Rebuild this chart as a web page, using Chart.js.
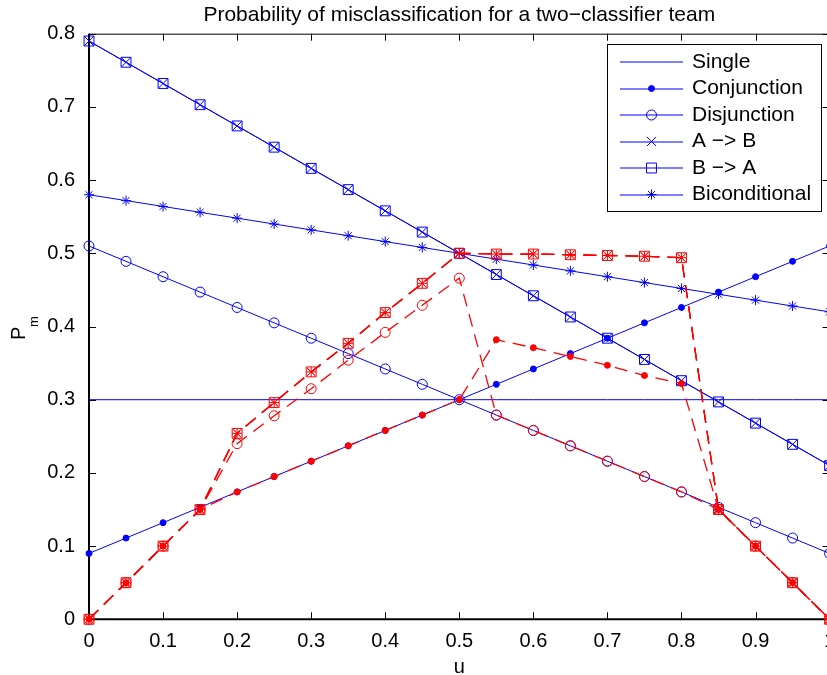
<!DOCTYPE html>
<html>
<head>
<meta charset="utf-8">
<script src="https://cdn.jsdelivr.net/npm/chart.js@4.4.1/dist/chart.umd.min.js"></script>
<style>
  html, body { margin: 0; padding: 0; background: #fff; overflow: hidden; }
  #wrap { width: 840px; height: 675px; }
</style>
</head>
<body>
<div id="wrap"><canvas id="chart" width="840" height="675"></canvas></div>
<script>
// u values (x axis)
const uValues = [0, 0.05, 0.1, 0.15, 0.2, 0.25, 0.3, 0.35, 0.4, 0.45, 0.5,
                 0.55, 0.6, 0.65, 0.7, 0.75, 0.8, 0.85, 0.9, 0.95, 1];

// blue series (solid)
const singleBlue = [0.3, 0.3, 0.3, 0.3, 0.3, 0.3, 0.3, 0.3, 0.3, 0.3, 0.3,
                    0.3, 0.3, 0.3, 0.3, 0.3, 0.3, 0.3, 0.3, 0.3, 0.3];
const conjBlue = [0.09, 0.111, 0.132, 0.153, 0.174, 0.195, 0.216, 0.237, 0.258, 0.279, 0.3,
                  0.321, 0.342, 0.363, 0.384, 0.405, 0.426, 0.447, 0.468, 0.489, 0.51];
const disjBlue = [0.51, 0.489, 0.468, 0.447, 0.426, 0.405, 0.384, 0.363, 0.342, 0.321, 0.3,
                  0.279, 0.258, 0.237, 0.216, 0.195, 0.174, 0.153, 0.132, 0.111, 0.09];
const aToBBlue = [0.79, 0.761, 0.732, 0.703, 0.674, 0.645, 0.616, 0.587, 0.558, 0.529, 0.5,
                  0.471, 0.442, 0.413, 0.384, 0.355, 0.326, 0.297, 0.268, 0.239, 0.21];
const bToABlue = [0.79, 0.761, 0.732, 0.703, 0.674, 0.645, 0.616, 0.587, 0.558, 0.529, 0.5,
                  0.471, 0.442, 0.413, 0.384, 0.355, 0.326, 0.297, 0.268, 0.239, 0.21];
const bicondBlue = [0.58, 0.572, 0.564, 0.556, 0.548, 0.54, 0.532, 0.524, 0.516, 0.508, 0.5,
                    0.492, 0.484, 0.476, 0.468, 0.46, 0.452, 0.444, 0.436, 0.428, 0.42];

// red series (dashed)
const conjRed = [0, 0.05, 0.1, 0.15, 0.174, 0.195, 0.216, 0.237, 0.258, 0.279, 0.3,
                 0.382, 0.371, 0.359, 0.347, 0.333, 0.322, 0.15, 0.1, 0.05, 0];
const disjRed = [0, 0.05, 0.1, 0.15, 0.24, 0.278, 0.315, 0.354, 0.392, 0.429, 0.466,
                 0.279, 0.258, 0.237, 0.216, 0.195, 0.174, 0.15, 0.1, 0.05, 0];
const aToBRed = [0, 0.05, 0.1, 0.15, 0.254, 0.296, 0.338, 0.377, 0.419, 0.459, 0.5,
                 0.499, 0.499, 0.498, 0.497, 0.496, 0.494, 0.15, 0.1, 0.05, 0];
const bToARed = [0, 0.05, 0.1, 0.15, 0.254, 0.296, 0.338, 0.377, 0.419, 0.459, 0.5,
                 0.499, 0.499, 0.498, 0.497, 0.496, 0.494, 0.15, 0.1, 0.05, 0];
const bicondRed = [0, 0.05, 0.1, 0.15, 0.254, 0.296, 0.338, 0.377, 0.419, 0.459, 0.5,
                   0.499, 0.499, 0.498, 0.497, 0.496, 0.494, 0.15, 0.1, 0.05, 0];

const BLUE = '#0000ff';
const RED = '#ff0000';
const FONT = "'Liberation Sans', Arial, Helvetica, sans-serif";

Chart.defaults.font.family = FONT;
Chart.defaults.color = '#000';

// marker looks, MATLAB style
const MARKERS = {
  none: { style: false, r: 0, fill: false },
  dot: { style: 'circle', r: 3, fill: true },
  circle: { style: 'circle', r: 5, fill: false },
  x: { style: 'crossRot', r: 6.5, fill: false },
  square: { style: 'rect', r: 7, fill: false },
  star: { style: 'star', r: 5, fill: false },
};

function series (label, values, color, marker, dashed, inLegend) {
  const m = MARKERS[marker];
  return {
    label,
    data: values.map((v, i) => ({ x: uValues[i], y: v })),
    borderColor: color,
    backgroundColor: color,
    borderWidth: dashed ? 1.3 : 1,
    borderDash: dashed ? [13, 8] : [],
    pointStyle: m.style,
    pointRadius: m.r,
    pointBorderColor: color,
    pointBackgroundColor: m.fill ? color : 'rgba(0,0,0,0)',
    pointBorderWidth: 1,
    tension: 0,
    clip: false,
    order: dashed ? 0 : 1,
    marker,
    inLegend,
  };
}

const datasets = [
  series('Single', singleBlue, BLUE, 'none', false, true),
  series('Conjunction', conjBlue, BLUE, 'dot', false, true),
  series('Disjunction', disjBlue, BLUE, 'circle', false, true),
  series('A \u2212> B', aToBBlue, BLUE, 'x', false, true),
  series('B \u2212> A', bToABlue, BLUE, 'square', false, true),
  series('Biconditional', bicondBlue, BLUE, 'star', false, true),
  series('Conjunction (red)', conjRed, RED, 'dot', true, false),
  series('Disjunction (red)', disjRed, RED, 'circle', true, false),
  series('A -> B (red)', aToBRed, RED, 'x', true, false),
  series('B -> A (red)', bToARed, RED, 'square', true, false),
  series('Biconditional (red)', bicondRed, RED, 'star', true, false),
];

function drawMarker (ctx, marker, x, y, color) {
  const m = MARKERS[marker];
  if (!m.style) return;
  const r = m.r;
  ctx.save();
  ctx.strokeStyle = color;
  ctx.fillStyle = color;
  ctx.lineWidth = 1;
  ctx.beginPath();
  if (m.style === 'circle') {
    ctx.arc(x, y, r, 0, Math.PI * 2);
    if (m.fill) ctx.fill();
    ctx.stroke();
  } else if (m.style === 'rect') {
    const s = Math.SQRT1_2 * r;
    ctx.rect(x - s, y - s, 2 * s, 2 * s);
    ctx.stroke();
  } else {
    const d = Math.SQRT1_2 * r;
    ctx.moveTo(x - d, y - d); ctx.lineTo(x + d, y + d);
    ctx.moveTo(x - d, y + d); ctx.lineTo(x + d, y - d);
    if (m.style === 'star') {
      ctx.moveTo(x - r, y); ctx.lineTo(x + r, y);
      ctx.moveTo(x, y - r); ctx.lineTo(x, y + r);
    }
    ctx.stroke();
  }
  ctx.restore();
}

// box and inward ticks, MATLAB style
const axesBox = {
  id: 'axesBox',
  beforeDatasetsDraw (chart) {
    const { ctx, chartArea: a, scales } = chart;
    const tick = 7;
    ctx.save();
    ctx.strokeStyle = '#000';
    ctx.lineWidth = 1;
    ctx.beginPath();
    ctx.moveTo(a.left, a.top + 0.5); ctx.lineTo(a.right, a.top + 0.5);
    ctx.moveTo(a.right - 0.5, a.top); ctx.lineTo(a.right - 0.5, a.bottom);
    scales.x.ticks.forEach(t => {
      const px = Math.round(scales.x.getPixelForValue(t.value)) + 0.5;
      ctx.moveTo(px, a.bottom); ctx.lineTo(px, a.bottom - tick);
      ctx.moveTo(px, a.top); ctx.lineTo(px, a.top + tick);
    });
    scales.y.ticks.forEach(t => {
      const py = Math.round(scales.y.getPixelForValue(t.value)) + 0.5;
      ctx.moveTo(a.left, py); ctx.lineTo(a.left + tick, py);
      ctx.moveTo(a.right, py); ctx.lineTo(a.right - tick, py);
    });
    ctx.stroke();
    ctx.lineWidth = 2;
    ctx.beginPath();
    ctx.moveTo(a.left, a.top); ctx.lineTo(a.left, a.bottom);
    ctx.lineTo(a.right, a.bottom);
    ctx.stroke();
    ctx.restore();
  },
};

// y label with subscript
const yLabel = {
  id: 'yLabel',
  afterDraw (chart) {
    const ctx = chart.ctx;
    ctx.save();
    ctx.translate(25, 340);
    ctx.rotate(-Math.PI / 2);
    ctx.fillStyle = '#000';
    ctx.textBaseline = 'alphabetic';
    ctx.font = '20px ' + FONT;
    ctx.fillText('P', 0, 0);
    ctx.font = '13px ' + FONT;
    ctx.fillText('m', 13, 13.3);
    ctx.restore();
  },
};

// legend drawn like MATLAB's: line with marker in the middle
const matLegend = {
  id: 'matLegend',
  afterDraw (chart) {
    const ctx = chart.ctx;
    const items = chart.data.datasets.filter(d => d.inLegend);
    const box = { left: 607.5, top: 44.5, right: 821.5, bottom: 211.5 };
    ctx.save();
    ctx.fillStyle = '#fff';
    ctx.fillRect(box.left, box.top, box.right - box.left, box.bottom - box.top);
    ctx.strokeStyle = '#000';
    ctx.lineWidth = 1;
    ctx.strokeRect(box.left, box.top, box.right - box.left, box.bottom - box.top);
    ctx.font = '21px ' + FONT;
    ctx.textBaseline = 'middle';
    ctx.textAlign = 'left';
    items.forEach((d, i) => {
      const y = 62 + i * 26.5;
      ctx.strokeStyle = d.borderColor;
      ctx.lineWidth = 1;
      ctx.beginPath();
      ctx.moveTo(620, Math.round(y)); ctx.lineTo(683, Math.round(y));
      ctx.stroke();
      drawMarker(ctx, d.marker, 651.5, y, d.borderColor);
      ctx.fillStyle = '#000';
      ctx.fillText(d.label, 692, y);
    });
    ctx.restore();
  },
};

new Chart(document.getElementById('chart'), {
  type: 'line',
  data: { datasets },
  plugins: [axesBox, yLabel, matLegend],
  options: {
    responsive: false,
    animation: false,
    events: [],
    layout: { padding: { left: 0, right: 10.4, top: 0, bottom: 0 } },
    plugins: {
      legend: { display: false },
      tooltip: { enabled: false },
      title: {
        display: true,
        text: 'Probability of misclassification for a two\u2212classifier team',
        font: { size: 21, weight: 'normal' },
        color: '#000',
        padding: { top: 2.8, bottom: 5.7 },
        fullSize: false,
      },
    },
    scales: {
      x: {
        type: 'linear',
        min: 0,
        max: 1,
        ticks: {
          stepSize: 0.1,
          font: { size: 20 },
          padding: 2,
          maxRotation: 0,
          color: '#000',
          callback: v => String(Number(v.toFixed(2))),
        },
        grid: { display: false },
        border: { display: false },
        title: { display: true, text: 'u', font: { size: 20 }, padding: { top: 0, bottom: -4 }, color: '#000' },
        afterFit (s) { s.height = 55.7; },
      },
      y: {
        min: 0,
        max: 0.8,
        ticks: {
          stepSize: 0.1,
          font: { size: 20 },
          padding: 6,
          color: '#000',
          callback: v => String(Number(v.toFixed(2))),
        },
        grid: { display: false },
        border: { display: false },
        afterFit (s) { s.width = 89; },
      },
    },
  },
});
</script>
</body>
</html>
